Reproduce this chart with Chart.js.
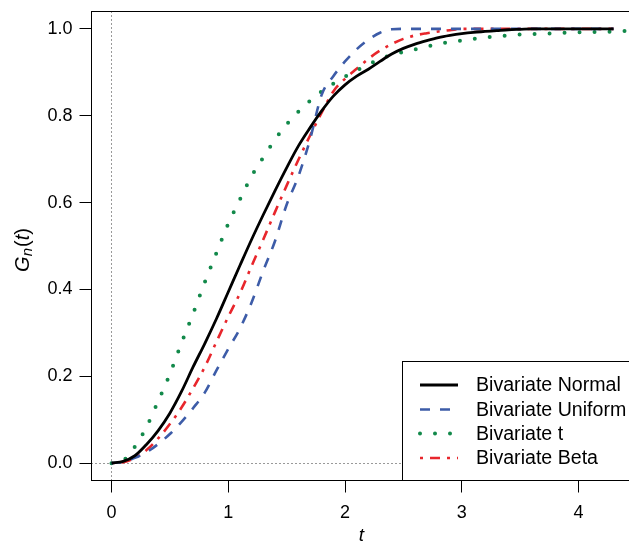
<!DOCTYPE html>
<html>
<head>
<meta charset="utf-8">
<script src="https://cdn.jsdelivr.net/npm/chart.js@4.4.1/dist/chart.umd.min.js"></script>
<style>
  html, body { margin: 0; padding: 0; background: #fff; overflow: hidden; }
  #wrap { width: 629px; height: 543px; overflow: hidden; position: relative; }
  canvas { display: block; }
</style>
</head>
<body>
<div id="wrap"><canvas id="c" width="660" height="543"></canvas></div>
<script>
// ---- data ----
const tGrid = [0,0.1,0.2,0.3,0.4,0.5,0.6,0.7,0.8,0.9,1.0,1.1,1.2,1.3,1.4,1.5,1.6,1.7,1.8,1.9,2.0,2.1,2.2,2.3,2.4,2.5,2.6,2.7,2.8,2.9,3.0,3.1,3.2,3.3,3.4,3.5,3.6,3.7,3.8,3.9,4.0,4.1,4.2,4.3];
const tGridT = [0,0.1,0.2,0.3,0.4,0.5,0.6,0.7,0.8,0.9,1.0,1.1,1.2,1.3,1.4,1.5,1.6,1.7,1.8,1.9,2.0,2.1,2.2,2.3,2.4,2.5,2.6,2.7,2.8,2.9,3.0,3.1,3.2,3.3,3.4,3.5,3.6,3.7,3.8,3.9,4.0,4.1,4.2,4.3,4.4,4.5];

const bivNormal = [0,0.004,0.017,0.043,0.075,0.115,0.165,0.222,0.276,0.333,0.394,0.455,0.515,0.572,0.627,0.680,0.730,0.772,0.811,0.845,0.871,0.891,0.907,0.925,0.942,0.955,0.965,0.973,0.980,0.985,0.989,0.992,0.994,0.996,0.998,0.999,1,1,1,1,1,1,1,1];
const bivUniform = [0,0.003,0.012,0.025,0.044,0.067,0.095,0.127,0.163,0.214,0.263,0.310,0.370,0.443,0.511,0.595,0.660,0.745,0.848,0.891,0.925,0.953,0.975,0.991,0.999,1,1,1,1,1,1,1,1,1,1,1,1,1,1,1,1,1,1,1];
const bivT = [0,0.006,0.038,0.083,0.143,0.205,0.277,0.345,0.417,0.485,0.551,0.607,0.661,0.704,0.745,0.780,0.809,0.834,0.856,0.874,0.890,0.904,0.918,0.930,0.940,0.947,0.953,0.959,0.965,0.970,0.973,0.977,0.980,0.983,0.985,0.987,0.988,0.989,0.990,0.991,0.992,0.993,0.993,0.994,0.995,0.995];
const bivBeta = [0,0.002,0.012,0.030,0.057,0.090,0.128,0.173,0.222,0.280,0.337,0.391,0.454,0.515,0.578,0.639,0.698,0.754,0.807,0.856,0.885,0.908,0.931,0.950,0.965,0.977,0.985,0.990,0.994,0.997,1,1,1,1,1,1,1,1,1,1,1,1,1,1];

const seriesNames = ['Bivariate Normal','Bivariate Uniform','Bivariate t','Bivariate Beta'];
const xTicks = [0,1,2,3,4];
const yTicks = [0,0.2,0.4,0.6,0.8,1.0];

const pts = (xs, ys) => ys.map((y, i) => ({x: xs[i], y: y}));

const FONT = '"Liberation Sans", Arial, Helvetica, sans-serif';

const frame = {
  id: 'frame',
  beforeDatasetsDraw(chart) {
    const {ctx, chartArea: a, scales: {x, y}} = chart;
    ctx.save();
    ctx.strokeStyle = '#333';
    ctx.lineWidth = 1;
    ctx.setLineDash([1, 3]);
    const x0 = Math.round(x.getPixelForValue(0)) + 0.5;
    const y0 = Math.round(y.getPixelForValue(0)) + 0.5;
    ctx.beginPath();
    ctx.moveTo(x0, a.top); ctx.lineTo(x0, a.bottom);
    ctx.moveTo(a.left, y0); ctx.lineTo(a.right, y0);
    ctx.stroke();
    ctx.restore();
  },
  afterDraw(chart) {
    const {ctx, chartArea: a} = chart;
    ctx.save();
    // legend
    const lx = 402.5, ly = 361.5;
    ctx.fillStyle = '#fff';
    ctx.fillRect(lx, ly, 700 - lx, a.bottom - ly);
    ctx.strokeStyle = '#000';
    ctx.lineWidth = 1;
    ctx.strokeRect(lx, ly, 700 - lx, a.bottom - ly);
    const rows = [385, 409.5, 433.5, 458];
    chart.data.datasets.forEach((ds, i) => {
      const yy = rows[i];
      ctx.save();
      ctx.strokeStyle = ds.borderColor;
      ctx.lineWidth = ds.borderWidth;
      ctx.lineCap = ds.borderCapStyle || 'butt';
      ctx.setLineDash(ds.borderDash || []);
      ctx.beginPath();
      ctx.moveTo(420, yy); ctx.lineTo(458, yy);
      ctx.stroke();
      ctx.restore();
      ctx.fillStyle = '#000';
      ctx.font = '19.6px ' + FONT;
      ctx.textBaseline = 'middle';
      ctx.textAlign = 'left';
      ctx.fillText(ds.label, 476, yy + 1);
    });
    // box
    ctx.strokeStyle = '#000';
    ctx.lineWidth = 1;
    ctx.setLineDash([]);
    ctx.strokeRect(a.left, a.top, a.right - a.left, a.bottom - a.top);
    // x title
    ctx.fillStyle = '#000';
    ctx.textAlign = 'center';
    ctx.textBaseline = 'alphabetic';
    ctx.font = 'italic 19px ' + FONT;
    ctx.fillText('t', (a.left + a.right) / 2, 541);
    // y title G_n(t)
    ctx.save();
    ctx.translate(29, 250);
    ctx.rotate(-Math.PI / 2);
    const parts = [
      {s: 'G', f: 'italic 20px ' + FONT, dy: 0},
      {s: 'n', f: 'italic 15px ' + FONT, dy: 3},
      {s: '(', f: '20px ' + FONT, dy: 0},
      {s: 't', f: 'italic 20px ' + FONT, dy: 0},
      {s: ')', f: '20px ' + FONT, dy: 0}
    ];
    let total = 0;
    parts.forEach(p => { ctx.font = p.f; p.w = ctx.measureText(p.s).width + (p.s === 'n' ? 1 : 0); total += p.w; });
    let cx = -total / 2;
    ctx.textAlign = 'left';
    parts.forEach(p => { ctx.font = p.f; ctx.fillText(p.s, cx, p.dy); cx += p.w; });
    ctx.restore();
    ctx.restore();
  }
};

new Chart(document.getElementById('c'), {
  type: 'line',
  data: {
    datasets: [
      {label: seriesNames[0], data: pts(tGrid, bivNormal), borderColor: '#000000', borderWidth: 2.8, borderCapStyle: 'butt'},
      {label: seriesNames[1], data: pts(tGrid, bivUniform), borderColor: '#3d5ca8', borderWidth: 2.6, borderDash: [10, 10], borderCapStyle: 'butt'},
      {label: seriesNames[2], data: pts(tGridT, bivT), borderColor: '#12894a', borderWidth: 4, borderDash: [0, 15], borderCapStyle: 'round'},
      {label: seriesNames[3], data: pts(tGrid, bivBeta), borderColor: '#e8262c', borderWidth: 2.6, borderDash: [3, 7, 10, 7], borderCapStyle: 'butt'}
    ]
  },
  options: {
    responsive: false,
    animation: false,
    devicePixelRatio: 1,
    layout: {padding: {top: 11.5, right: 28.8, left: 0, bottom: 0}},
    elements: {
      point: {radius: 0, hoverRadius: 0},
      line: {fill: false, cubicInterpolationMode: 'monotone'}
    },
    plugins: {legend: {display: false}, tooltip: {enabled: false}},
    scales: {
      x: {
        type: 'linear', min: -0.1712, max: 4.4512,
        afterBuildTicks: s => { s.ticks = xTicks.map(v => ({value: v})); },
        afterFit: s => { s.height = 62.5; s.paddingLeft = 0; s.paddingRight = 0; },
        border: {display: false},
        grid: {drawOnChartArea: false, drawTicks: true, tickLength: 12, color: '#000', lineWidth: 1},
        ticks: {font: {family: FONT, size: 18}, color: '#000', padding: 10, maxRotation: 0,
                callback: v => String(v)}
      },
      y: {
        type: 'linear', min: -0.04, max: 1.04,
        afterBuildTicks: s => { s.ticks = yTicks.map(v => ({value: v})); },
        afterFit: s => { s.width = 91.5; s.paddingTop = 0; s.paddingBottom = 0; },
        border: {display: false},
        grid: {drawOnChartArea: false, drawTicks: true, tickLength: 12, color: '#000', lineWidth: 1},
        ticks: {font: {family: FONT, size: 18}, color: '#000', padding: 7,
                callback: v => Number(v).toFixed(1)}
      }
    }
  },
  plugins: [frame]
});
</script>
</body>
</html>
